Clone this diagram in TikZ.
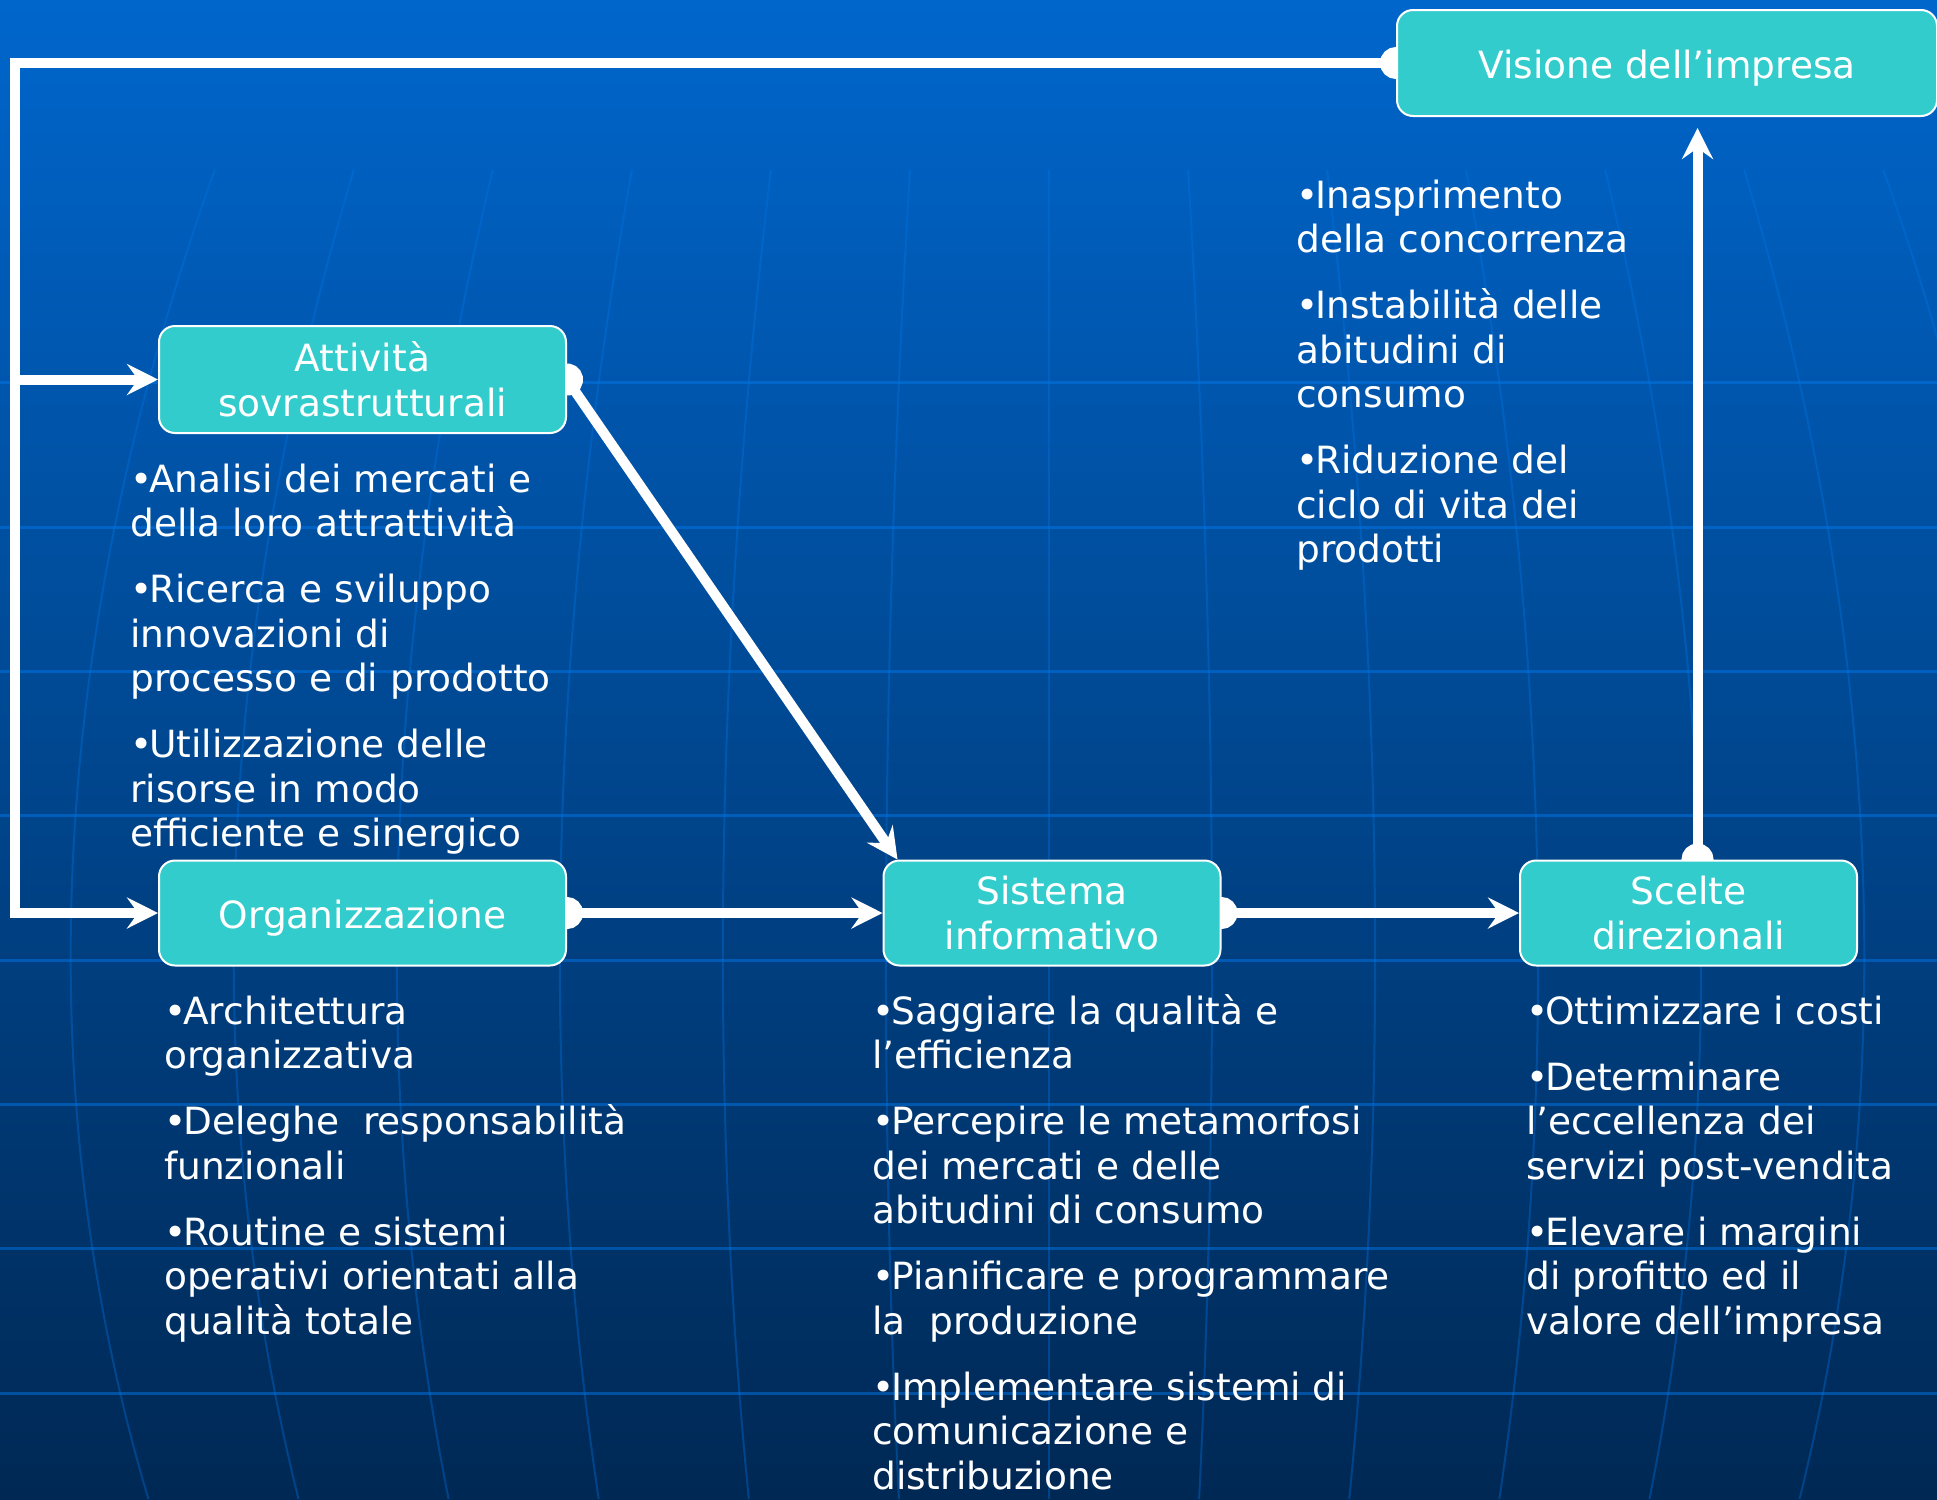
\documentclass[tikz,border=0pt]{standalone}
\usepackage{fontspec}
\setmainfont{DejaVu Sans}
\usetikzlibrary{arrows.meta,backgrounds,calc}
\definecolor{bgtop}{RGB}{0,102,204}
\definecolor{bgmid}{RGB}{0,78,156}
\definecolor{bgbot}{RGB}{0,40,84}
\definecolor{boxfill}{RGB}{51,204,204}
\definecolor{gridblue}{RGB}{0,118,232}
\newcommand{\slidefont}{\fontsize{37.5}{44.5}\selectfont}
\newcommand{\bul}{•\kern-3pt}
\begin{document}
\begin{tikzpicture}[x=1pt,y=-1pt,
		box/.style={draw=white,line width=2pt,fill=boxfill,rounded corners=16pt,
			text=white,font=\slidefont,align=center,inner sep=0pt},
		oneline/.style={text height=30pt,text depth=0pt},
		note/.style={anchor=north west,inner sep=0pt,text=white,font=\slidefont,align=left},
		link/.style={draw=white,line width=10pt,-{Stealth[length=31pt,width=31pt,inset=11pt]}},
		dotlink/.style={link,{Circle[length=32pt]}-{Stealth[length=31pt,width=31pt,inset=11pt]},shorten <=-16pt},
		gridline/.style={gridblue,opacity=.5,line width=3pt},
		meridian/.style={gridblue,opacity=.35,line width=2pt}]
	\useasboundingbox (0,0) rectangle (1937,1499);

	%draw the boxes
	\node[box,oneline,minimum width=540pt,minimum height=106pt] (visione) at (1667,63) {Visione dell’impresa};
	\node[box,minimum width=407pt,minimum height=107pt] (attivita) at (362.5,379.5) {Attività\\sovrastrutturali};
	\node[box,oneline,minimum width=407pt,minimum height=105pt] (orga) at (362.5,913) {Organizzazione};
	\node[box,minimum width=337pt,minimum height=105pt] (sistema) at (1052,913) {Sistema\\informativo};
	\node[box,minimum width=337pt,minimum height=105pt] (scelte) at (1688.5,913) {Scelte\\direzionali};

	%draw the bullet lists
	\node[note] (visnote) at (1296,176.85) {\strut\bul Inasprimento\\della concorrenza\\[21.5pt]
		\bul Instabilità delle\\abitudini di\\consumo\\[21.5pt]
		\bul Riduzione del\\ciclo di vita dei\\prodotti};
	\node[note] (attnote) at (130,460.85) {\strut\bul Analisi dei mercati e\\della loro attrattività\\[21.5pt]
		\bul Ricerca e sviluppo\\innovazioni di\\processo e di prodotto\\[21.5pt]
		\bul Utilizzazione delle\\risorse in modo\\efficiente e sinergico};
	\node[note] (orgnote) at (164,992.85) {\strut\bul Architettura\\organizzativa\\[21.5pt]
		\bul Deleghe\ \ responsabilità\\funzionali\\[21.5pt]
		\bul Routine e sistemi\\operativi orientati alla\\qualità totale};
	\node[note] (sisnote) at (872,992.85) {\strut\bul Saggiare la qualità e\\l’efficienza\\[21.5pt]
		\bul Percepire le metamorfosi\\dei mercati e delle\\abitudini di consumo\\[21.5pt]
		\bul Pianificare e programmare\\la\ \ produzione\\[21.5pt]
		\bul Implementare sistemi di\\comunicazione e\\distribuzione};
	\node[note] (scenote) at (1526,992.85) {\strut\bul Ottimizzare i costi\\[21.5pt]
		\bul Determinare\\l’eccellenza dei\\servizi post-vendita\\[21.5pt]
		\bul Elevare i margini\\di profitto ed il\\valore dell’impresa};

	\begin{pgfonlayer}{background}
		%draw the background and the globe lines
		\shade[top color=bgtop,middle color=bgmid,bottom color=bgbot] (0,0) rectangle (1937,1499);
		\foreach \gy in {382,527,671,815,960,1104,1248,1393}
			\draw[gridline] (0,\gy) -- (1937,\gy);
		\foreach \k in {-6,...,6}
			\draw[meridian] ({1049+\k*158*0.88},170) .. controls ({1049+\k*158*1.08},700)
				and ({1049+\k*158*1.06},1150) .. ({1049+\k*158*0.95},1499);

		%draw the arrows
		\coordinate (loop) at (15,0);
		\draw[dotlink] (visione.west) -- (visione.west -| loop) -- (orga.west -| loop) -- (orga.west);
		\draw[link] (attivita.west -| loop) -- (attivita.west);
		\draw[dotlink] (attivita.east) -- ([xshift=15pt]sistema.north west);
		\draw[dotlink] (orga.east) -- (sistema.west);
		\draw[dotlink] (sistema.east) -- (scelte.west);
		\draw[dotlink,shorten >=11pt] ([xshift=9pt]scelte.north) -- ([xshift=9pt]scelte.north |- visione.south);
	\end{pgfonlayer}
\end{tikzpicture}
\end{document}
